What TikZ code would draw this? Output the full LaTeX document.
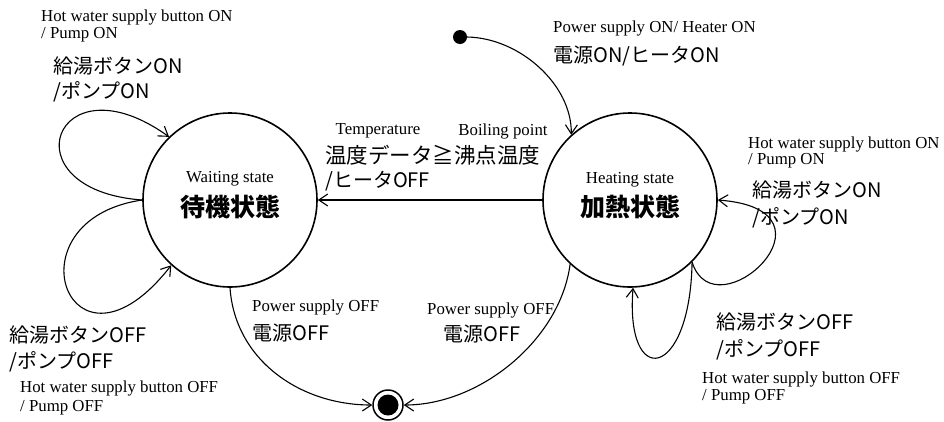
\documentclass[tikz,border=0pt]{standalone}
\usepackage{fontspec}
\setmainfont{Liberation Serif}
\newfontfamily\jp{Noto Sans CJK JP}
\usetikzlibrary{arrows.meta}
\begin{document}
\begin{tikzpicture}[x=1pt,y=-1pt,
  state/.style={circle,draw,line width=1.6pt,minimum size=174pt,inner sep=0pt},
  en/.style={font=\fontsize{16.8}{18}\selectfont,inner sep=0pt,anchor=west},
  jpl/.style={font=\jp\fontsize{20}{22}\selectfont,inner sep=0pt,anchor=west},
  sten/.style={font=\fontsize{16.8}{18}\selectfont,inner sep=0pt},
  stjp/.style={font=\jp\bfseries\fontsize{25}{27}\selectfont,inner sep=0pt},
  trans/.style={line width=1.1pt,-{Straight Barb[length=9pt,width=12pt]}}]
\useasboundingbox (0,0) rectangle (944,421);
% states
\node[state] (W) at (230,200) {};
\node[state] (H) at (630,200) {};
\node[circle,fill,minimum size=14pt,inner sep=0pt] (init) at (460,37) {};
\node[circle,draw,line width=1.5pt,minimum size=30pt,inner sep=0pt] (fin) at (388,405) {};
\node[circle,fill,minimum size=21pt,inner sep=0pt] (finc) at (388,405) {};
\node[sten] (wen) at (230,179) {Waiting state};
\node[stjp] (wjp) at (230,207) {待機状態};
\node[sten] (hen) at (630,180) {Heating state};
\node[stjp] (hjp) at (630,207) {加熱状態};
% connectors
\draw[trans] (init.east) .. controls (520,38) and (572,85) .. (H.132);
\draw[trans] (H.180) -- (W.0);
\draw[trans] (W.180) .. controls (5,190) and (55,55) .. (W.134);
\draw[trans] (W.180) .. controls (5,220) and (70,395) .. (W.-132);
\draw[trans] (H.-45) .. controls (715,335) and (850,210) .. (H.0);
\draw[trans] (H.-45) .. controls (690,380) and (625,390) .. (H.-88);
\draw[trans] (W.-90) .. controls (235,360) and (300,405) .. (fin.west);
\draw[trans] (H.-133) .. controls (560,340) and (480,405) .. (fin.east);
% labels top left
\node[en] (a1) at (41,17) {Hot water supply button ON};
\node[en] (a2) at (41,35) {/ Pump ON};
\node[jpl] (a3) at (53,66) {給湯ボタンON};
\node[jpl] (a4) at (53,92) {/ポンプON};
% labels middle
\node[sten] (b1) at (378,131) {Temperature};
\node[sten] (b2) at (503,131) {Boiling point};
\node[jpl,font=\jp\fontsize{21.5}{22}\selectfont] (b3) at (325,155) {温度データ≧沸点温度};
\node[jpl] (b4) at (325,181) {/ヒータOFF};
% labels top right
\node[en] (c1) at (553,28) {Power supply ON/ Heater ON};
\node[jpl] (c2) at (553,56) {電源ON/ヒータON};
% labels right
\node[en] (d1) at (748,144) {Hot water supply button ON};
\node[en] (d2) at (748,161) {/ Pump ON};
\node[jpl] (d3) at (752,190) {給湯ボタンON};
\node[jpl] (d4) at (752,218) {/ポンプON};
% labels bottom right
\node[jpl] (e1) at (716,322) {給湯ボタンOFF};
\node[jpl] (e2) at (716,350) {/ポンプOFF};
\node[en] (e3) at (702,379) {Hot water supply button OFF};
\node[en] (e4) at (702,397) {/ Pump OFF};
% labels bottom left
\node[jpl] (f1) at (9,335) {給湯ボタンOFF};
\node[jpl] (f2) at (9,362) {/ポンプOFF};
\node[en] (f3) at (20,388) {Hot water supply button OFF};
\node[en] (f4) at (20,408) {/ Pump OFF};
% labels bottom middle
\node[en] (g1) at (252,307) {Power supply OFF};
\node[jpl] (g2) at (252,333) {電源OFF};
\node[en] (g3) at (427,310) {Power supply OFF};
\node[jpl] (g4) at (443,334) {電源OFF};
\end{tikzpicture}
\end{document}
